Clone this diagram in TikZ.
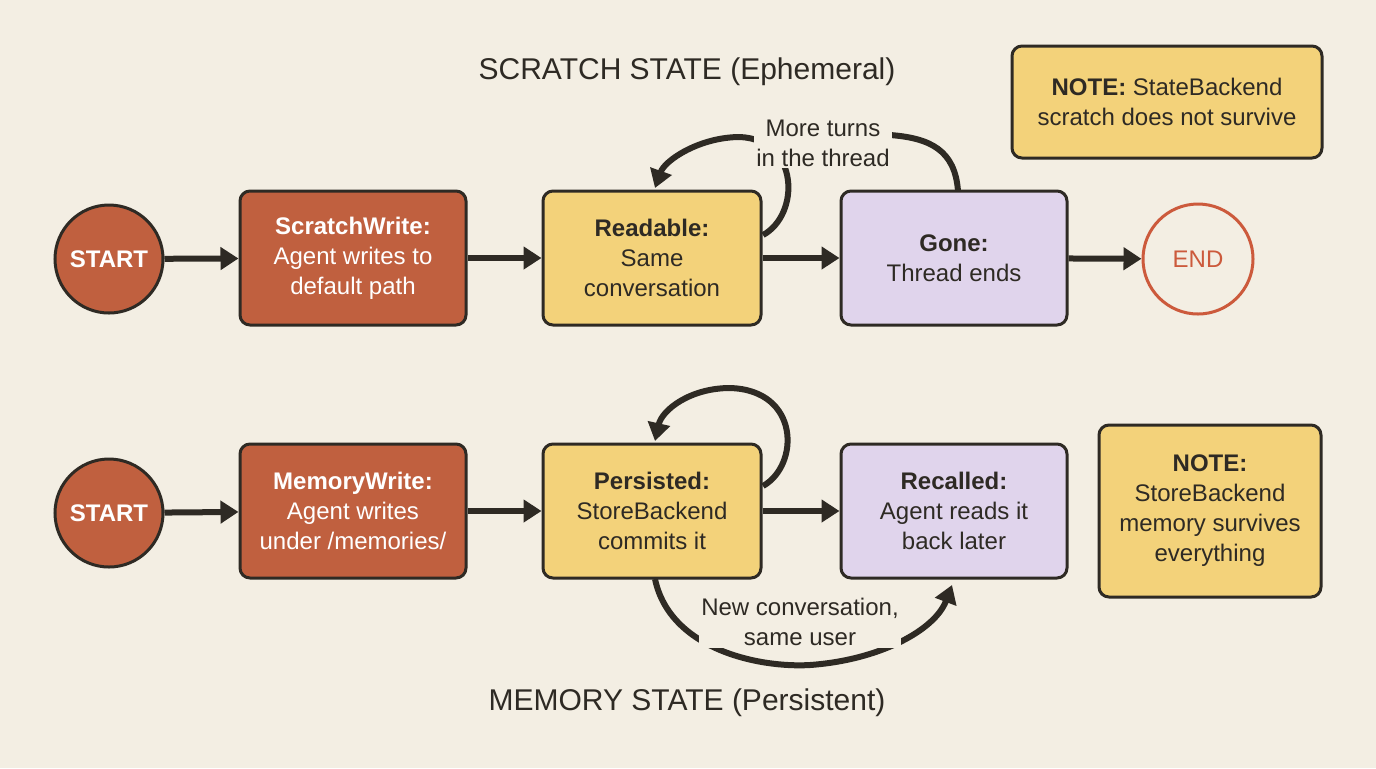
\documentclass[tikz,border=0pt]{standalone}
\usepackage{fontspec}
\setmainfont{Liberation Sans}
\usetikzlibrary{arrows.meta}
\definecolor{bg}{HTML}{F3EEE3}
\definecolor{rust}{HTML}{C0603F}
\definecolor{yel}{HTML}{F3D27A}
\definecolor{lav}{HTML}{E0D4EC}
\definecolor{ink}{HTML}{2E2A24}
\definecolor{endc}{HTML}{CC5A3C}
\begin{document}
\begin{tikzpicture}[x=0.5pt,y=-0.5pt,
 box/.style={draw=ink,line width=1.5pt,rounded corners=5pt,minimum width=113pt,minimum height=67pt,align=center,font=\fontsize{12}{15}\selectfont,text=ink},
 red/.style={box,fill=rust,text=white},
 circ/.style={circle,draw=ink,line width=1.5pt,fill=rust,minimum size=54pt,text=white,font=\bfseries\fontsize{12}{14}\selectfont},
 arr/.style={draw=ink,line width=3pt,-{Triangle[length=9pt,width=11pt]}},
 lbl/.style={fill=bg,align=center,inner sep=1pt,font=\fontsize{12}{15}\selectfont,text=ink},
 title/.style={font=\fontsize{15}{17}\selectfont,text=ink}]
\fill[bg] (0,0) rectangle (1376,768);
\node[title] (t1) at (687,72) {SCRATCH STATE (Ephemeral)};
\node[title] (t2) at (687,703) {MEMORY STATE (Persistent)};
\node[box,fill=yel,minimum width=155pt,minimum height=56pt] (n1) at (1167,102) {\textbf{NOTE:} StateBackend\\scratch does not survive};
% row 1
\node[circ] (s1) at (109,259) {START};
\node[red] (a1) at (353,258) {\textbf{ScratchWrite:}\\Agent writes to\\default path};
\node[box,fill=yel,minimum width=109pt] (b1) at (652,258) {\textbf{Readable:}\\Same\\conversation};
\node[box,fill=lav] (c1) at (954,258) {\textbf{Gone:}\\Thread ends};
\node[circle,draw=endc,line width=1.5pt,minimum size=55pt,text=endc,font=\fontsize{12}{14}\selectfont] (e1) at (1198,259) {END};
\draw[arr] (s1) -- (a1);
\draw[arr] (a1) -- (b1);
\draw[arr] (b1) -- (c1);
\draw[arr] (c1) -- (e1);
\coordinate (r1) at (763,235);
\coordinate (g1) at (958,191);
\draw[ink,line width=3pt] (g1) .. controls (955,150) and (930,138) .. (890,135);
\draw[arr] (r1) .. controls (800,215) and (800,140) .. (740,137) .. controls (700,137) and (665,160) .. (655,188);
\node[lbl] (l1) at (823,143) {More turns\\in the thread};
% row 2
\node[circ] (s2) at (109,513) {START};
\node[red] (a2) at (353,511) {\textbf{MemoryWrite:}\\Agent writes\\under /memories/};
\node[box,fill=yel,minimum width=109pt] (b2) at (652,511) {\textbf{Persisted:}\\StoreBackend\\commits it};
\node[box,fill=lav] (c2) at (954,511) {\textbf{Recalled:}\\Agent reads it\\back later};
\node[box,fill=yel,minimum width=111pt,minimum height=86pt] (n2) at (1210,511) {\textbf{NOTE:}\\StoreBackend\\memory survives\\everything};
\draw[arr] (s2) -- (a2);
\draw[arr] (a2) -- (b2);
\draw[arr] (b2) -- (c2);
\coordinate (r2) at (763,486);
\draw[arr] (r2) .. controls (800,465) and (800,390) .. (730,388) .. controls (690,388) and (662,410) .. (655,441);
\coordinate (p2) at (655,579);
\draw[arr] (p2) .. controls (670,650) and (760,668) .. (810,665) .. controls (880,660) and (935,630) .. (952,585);
\node[lbl] (l2) at (800,622) {New conversation,\\same user};
\end{tikzpicture}
\end{document}
